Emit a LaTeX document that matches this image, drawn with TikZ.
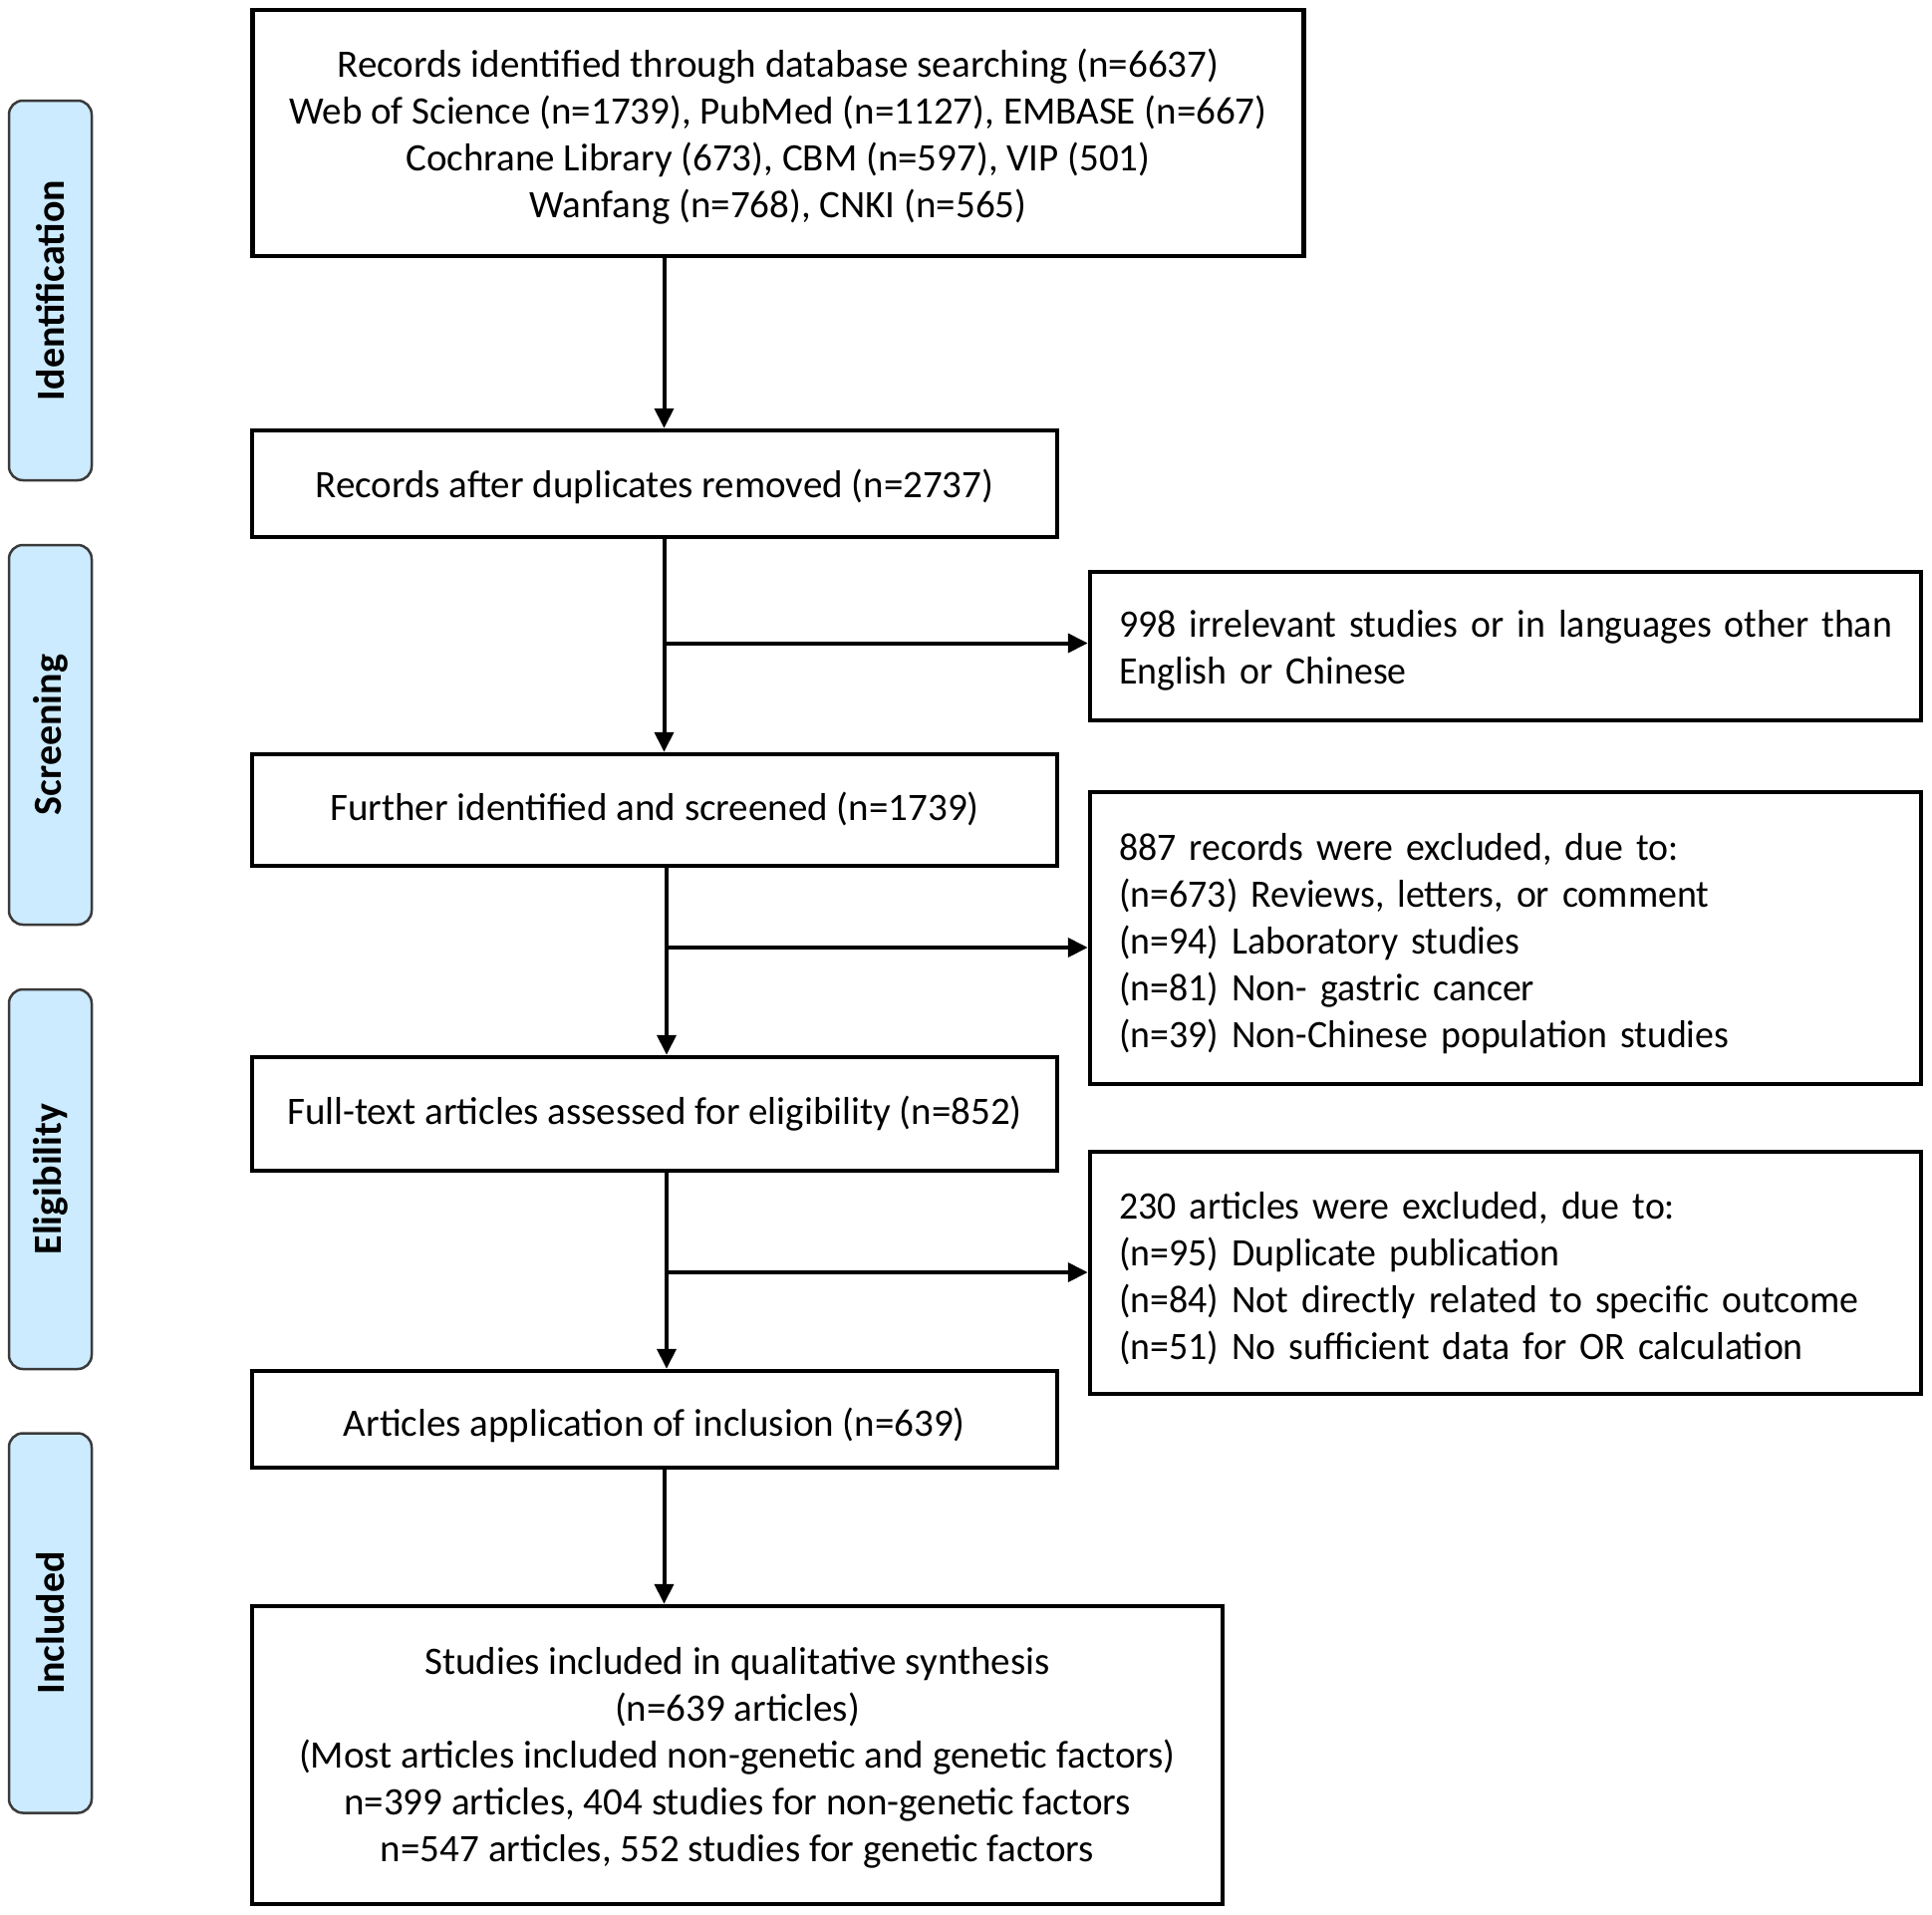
\documentclass[tikz,border=0pt]{standalone}
\usepackage{fontspec}
\setmainfont{Carlito}
\newfontfamily\narrowfont{Carlito}[FakeStretch=0.97,WordSpace=0.92]
\usetikzlibrary{arrows.meta}
\definecolor{sidefill}{HTML}{CCEBFF}
\definecolor{sidedraw}{HTML}{3A3A3A}
\begin{document}
\begin{tikzpicture}[x=1pt,y=-1pt,
  font=\fontsize{39}{47}\selectfont,
  box/.style={draw, line width=4.5pt, inner sep=0pt},
  btext/.style={inner sep=0pt, align=center},
  etext/.style={inner sep=0pt, text width=790pt, align=left, anchor=west, font=\fontsize{39}{47}\narrowfont},
  side/.style={draw=sidedraw, fill=sidefill, line width=2.5pt, rounded corners=14pt, rotate=90, minimum width=381pt, minimum height=83pt, inner sep=0pt, font=\fontsize{40}{48}\selectfont\bfseries},
  arr/.style={line width=4pt, -{Triangle[length=20pt,width=19pt]}}]
\fill[white] (0,0) rectangle (1939,1922);
\useasboundingbox (0,0) rectangle (1939,1922);

% side labels
\node[side] (s1) at (50.5,291.5) {Identification};
\node[side] (s2) at (50.5,737.5) {Screening};
\node[side] (s3) at (50.5,1183.5) {Eligibility};
\node[side] (s4) at (50.5,1629) {Included};

% main column boxes
\node[box, minimum width=1055pt, minimum height=247pt] (b1) at (781,133.5) {};
\node[box, minimum width=808pt, minimum height=107pt] (b2) at (657,485.5) {};
\node[box, minimum width=808pt, minimum height=112pt] (b3) at (657,813) {};
\node[box, minimum width=808pt, minimum height=114pt] (b4) at (657,1118) {};
\node[box, minimum width=808pt, minimum height=97pt] (b5) at (657,1424.5) {};
\node[box, minimum width=974pt, minimum height=299pt] (b6) at (740,1761.5) {};

\node[btext, yshift=-4pt] (t1) at (b1.center)
  {Records identified through database searching (n=6637)\\Web of Science (n=1739), PubMed (n=1127), EMBASE (n=667)\\Cochrane Library (673), CBM (n=597), VIP (501)\\Wanfang (n=768), CNKI (n=565)};
\node[btext, yshift=-2.5pt] (t2) at (b2.center) {Records after duplicates removed (n=2737)};
\node[btext, yshift=1pt] (t3) at (b3.center) {Further identified and screened (n=1739)};
\node[btext] (t4) at (b4.center) {Full-text articles assessed for eligibility (n=852)};
\node[btext, yshift=-6pt] (t5) at (b5.center) {Articles application of inclusion (n=639)};
\node[btext, yshift=-2.5pt] (t6) at (b6.center)
  {Studies included in qualitative synthesis\\(n=639 articles)\\(Most articles included non-genetic and genetic factors)\\n=399 articles, 404 studies for non-genetic factors\\n=547 articles, 552 studies for genetic factors};

% exclusion boxes
\node[box, minimum width=834pt, minimum height=149pt] (e1) at (1511,648.5) {};
\node[box, minimum width=834pt, minimum height=293pt] (e2) at (1511,941.5) {};
\node[box, minimum width=834pt, minimum height=243pt] (e3) at (1511,1277.5) {};

\node[etext, xshift=31.5pt, yshift=-4pt] (u1) at (e1.west)
  {998 irrelevant studies or in languages other than\\English or Chinese};
\node[etext, xshift=31.5pt, yshift=-6pt] (u2) at (e2.west)
  {887 records were excluded, due to:\\(n=673) Reviews, letters, or comment\\(n=94) Laboratory studies\\(n=81) Non- gastric cancer\\(n=39) Non-Chinese population studies};
\node[etext, xshift=31.5pt, yshift=-6pt] (u3) at (e3.west)
  {230 articles were excluded, due to:\\(n=95) Duplicate publication\\(n=84) Not directly related to specific outcome\\(n=51) No sufficient data for OR calculation};

% connectors
\coordinate (ca) at (666.5,0);
\coordinate (cb) at (669,0);
\coordinate (j1) at (666.5,645.5);
\coordinate (j2) at (669,951);
\coordinate (j3) at (669,1277);
\draw[arr] (b1.south -| ca) -- (b2.north -| ca);
\draw[arr] (b2.south -| ca) -- (b3.north -| ca);
\draw[arr] (j1) -- (j1 -| e1.west);
\draw[arr] (b3.south -| cb) -- (b4.north -| cb);
\draw[arr] (j2) -- (j2 -| e2.west);
\draw[arr] (b4.south -| cb) -- (b5.north -| cb);
\draw[arr] (j3) -- (j3 -| e3.west);
\draw[arr] (b5.south -| ca) -- (b6.north -| ca);
\end{tikzpicture}
\end{document}
